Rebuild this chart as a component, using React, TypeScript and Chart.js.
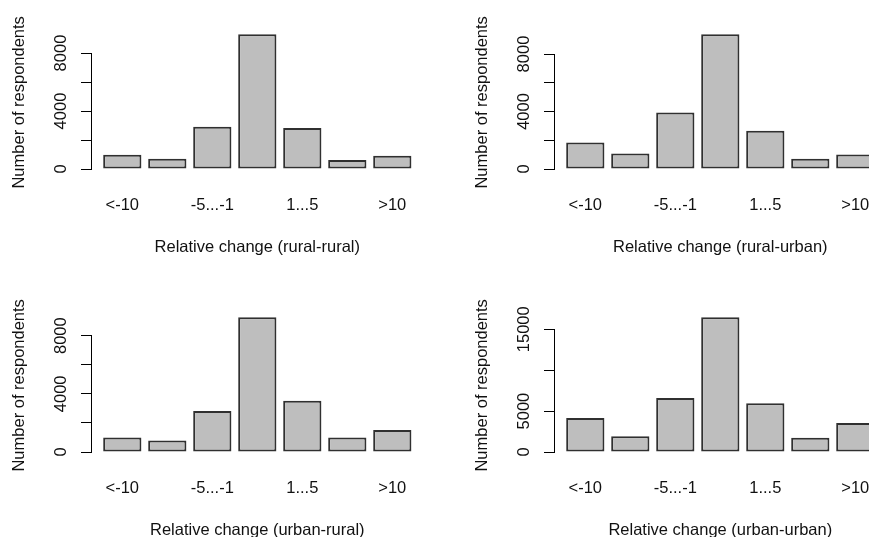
import React, { useEffect, useRef } from "react";
import { Chart, registerables } from "chart.js";

Chart.register(...registerables);

// ---------- data ----------
const categories = ["<-10", "-10...-5", "-5...-1", "-1...1", "1...5", "5...10", ">10"];
const shownCategoryLabels = ["<-10", "-5...-1", "1...5", ">10"];

const ruralRural = [990, 710, 2920, 9290, 2830, 620, 920];
const ruralUrban = [1850, 1080, 3930, 9370, 2660, 720, 1010];
const urbanRural = [990, 800, 2820, 9260, 3530, 990, 1510];
const urbanUrban = [4160, 1920, 6600, 16460, 5950, 1750, 3550];

const ticksSmall = [0, 2000, 4000, 6000, 8000];
const tickLabelsSmall = [0, 4000, 8000];
const ticksLarge = [0, 5000, 10000, 15000];
const tickLabelsLarge = [0, 5000, 15000];

const yTitle = "Number of respondents";
const xTitles = [
  "Relative change (rural-rural)",
  "Relative change (rural-urban)",
  "Relative change (urban-rural)",
  "Relative change (urban-urban)",
];

// ---------- style ----------
const FAMILY = '"Liberation Sans", Arial, Helvetica, sans-serif';
const FSIZE = 16.5;
const TEXT = "#111111";
const PANEL_W = 463;
const PANEL_H = 283;

function measureWidest(labels: string[]): number {
  const c = document.createElement("canvas");
  const ctx = c.getContext("2d")!;
  ctx.font = `${FSIZE}px ${FAMILY}`;
  let w = 0;
  for (const l of labels) w = Math.max(w, ctx.measureText(l).width);
  return w;
}

const rAxisLine = {
  id: "rAxisLine",
  afterDraw(chart: any) {
    const s = chart.scales.y;
    const t = s.ticks;
    if (!t || !t.length) return;
    const yA = Math.round(s.getPixelForValue(t[0].value) - 0.5) + 0.5;
    const yB = Math.round(s.getPixelForValue(t[t.length - 1].value) - 0.5) + 0.5;
    const x = Math.round(s.right) - 0.5;
    const ctx = chart.ctx;
    ctx.save();
    ctx.strokeStyle = "#000";
    ctx.lineWidth = 1;
    ctx.beginPath();
    ctx.moveTo(x, yA + 0.5);
    ctx.lineTo(x, yB - 0.5);
    ctx.stroke();
    ctx.restore();
  },
};

type PanelProps = {
  values: number[];
  tickValues: number[];
  tickLabels: number[];
  xTitle: string;
  left: number;
  top: number;
};

function Panel({ values, tickValues, tickLabels, xTitle, left, top }: PanelProps) {
  const ref = useRef<HTMLCanvasElement | null>(null);
  useEffect(() => {
    if (!ref.current) return;
    const font = { family: FAMILY, size: FSIZE };
    const M = Math.max(...values);
    const widest = measureWidest(tickLabels.map(String));
    const yPad = 31 - 11 - widest / 2;
    const chart = new Chart(ref.current, {
      type: "bar",
      data: {
        labels: categories,
        datasets: [
          {
            data: values,
            yAxisID: "y",
            backgroundColor: "#BEBEBE",
            borderColor: "#303030",
            borderWidth: 2,
            borderSkipped: false,
            barPercentage: 0.85,
            categoryPercentage: 1,
          } as any,
        ],
      },
      options: {
        responsive: false,
        animation: false,
        devicePixelRatio: 1,
        layout: { padding: { top: 28.9, left: 0, right: 48.2, bottom: 0 } },
        plugins: { legend: { display: false }, tooltip: { enabled: false } },
        scales: {
          x: {
            type: "category",
            offset: true,
            grid: { display: false },
            border: { display: false },
            ticks: {
              autoSkip: false,
              minRotation: 0,
              maxRotation: 0,
              padding: 11.3,
              color: TEXT,
              font,
              callback: (_v: any, i: number) =>
                shownCategoryLabels.includes(categories[i]) ? categories[i] : "",
            },
            title: {
              display: true,
              text: xTitle,
              color: TEXT,
              font,
              padding: { top: 0, bottom: 25.6 },
            },
            afterFit: (s: any) => {
              s.height = 107.2;
            },
          },
          y: {
            type: "linear",
            position: "left",
            weight: 1,
            min: -0.0504 * M,
            max: 1.0404 * M,
            grid: {
              display: true,
              drawOnChartArea: false,
              drawTicks: true,
              tickLength: 11,
              color: "#000",
              lineWidth: 1,
            },
            border: { display: false },
            afterBuildTicks: (s: any) => {
              s.ticks = tickValues.map((v) => ({ value: v }));
            },
            ticks: {
              autoSkip: false,
              minRotation: 90,
              maxRotation: 90,
              crossAlign: "center",
              padding: yPad,
              color: TEXT,
              font,
              callback: (v: any) => (tickLabels.includes(Number(v)) ? String(v) : ""),
            },
            title: {
              display: true,
              text: yTitle,
              color: TEXT,
              font,
              padding: { top: 9.1, bottom: 0 },
            },
            afterFit: (s: any) => {
              s.width = 92;
            },
          },
          ySpacer: {
            type: "linear",
            position: "left",
            weight: 0,
            display: true,
            grid: { display: false },
            border: { display: false },
            ticks: { display: false },
            title: { display: false },
            afterFit: (s: any) => {
              s.width = 7.8;
            },
          },
        } as any,
      },
      plugins: [rAxisLine],
    });
    return () => chart.destroy();
  }, [values, tickValues, tickLabels, xTitle]);

  return (
    <canvas
      ref={ref}
      width={PANEL_W}
      height={PANEL_H}
      style={{ position: "absolute", left, top, width: PANEL_W, height: PANEL_H }}
    />
  );
}

export default function App() {
  return (
    <div
      style={{
        position: "fixed",
        left: 0,
        top: 0,
        width: 869,
        height: 537,
        overflow: "hidden",
        background: "#ffffff",
      }}
    >
      <Panel values={ruralRural} tickValues={ticksSmall} tickLabels={tickLabelsSmall} xTitle={xTitles[0]} left={0} top={0} />
      <Panel values={ruralUrban} tickValues={ticksSmall} tickLabels={tickLabelsSmall} xTitle={xTitles[1]} left={PANEL_W} top={0} />
      <Panel values={urbanRural} tickValues={ticksSmall} tickLabels={tickLabelsSmall} xTitle={xTitles[2]} left={0} top={PANEL_H} />
      <Panel values={urbanUrban} tickValues={ticksLarge} tickLabels={tickLabelsLarge} xTitle={xTitles[3]} left={PANEL_W} top={PANEL_H} />
    </div>
  );
}
